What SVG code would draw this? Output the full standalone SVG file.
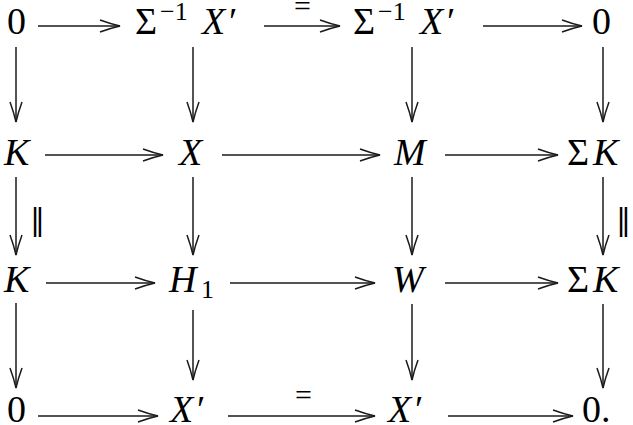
<svg xmlns="http://www.w3.org/2000/svg" width="633" height="425" viewBox="0 0 633 425">
<defs>
<marker id="ah" markerUnits="userSpaceOnUse" markerWidth="24" markerHeight="16" refX="21" refY="8" orient="auto" viewBox="0 0 24 16">
<path d="M1,2 Q12,6 21,8 Q12,10 1,14" fill="none" stroke="#1a1a1a" stroke-width="1.5"/>
</marker>
</defs>
<rect width="633" height="425" fill="#fff"/>
<g id="n11"><text x="7" y="34" font-family="Liberation Serif" font-size="38">0</text></g>
<g id="n12"><text x="135" y="34" font-family="Liberation Serif" font-size="38">Σ<tspan font-size="26" x="160" y="20">−1</tspan><tspan font-style="italic" x="202" y="34">X</tspan><tspan x="229" y="34">′</tspan></text></g>
<g id="n13"><text x="353" y="34" font-family="Liberation Serif" font-size="38">Σ<tspan font-size="26" x="378" y="20">−1</tspan><tspan font-style="italic" x="420" y="34">X</tspan><tspan x="447" y="34">′</tspan></text></g>
<g id="n14"><text x="592" y="34" font-family="Liberation Serif" font-size="38">0</text></g>
<g id="n21"><text x="4" y="165" font-family="Liberation Serif" font-size="38" font-style="italic">K</text></g>
<g id="n22"><text x="179" y="165" font-family="Liberation Serif" font-size="38" font-style="italic">X</text></g>
<g id="n23"><text x="394" y="165" font-family="Liberation Serif" font-size="38" font-style="italic">M</text></g>
<g id="n24"><text x="567" y="165" font-family="Liberation Serif" font-size="38">Σ<tspan font-style="italic" x="593">K</tspan></text></g>
<g id="n31"><text x="4" y="292" font-family="Liberation Serif" font-size="38" font-style="italic">K</text></g>
<g id="n32"><text x="169" y="292" font-family="Liberation Serif" font-size="38"><tspan font-style="italic">H</tspan><tspan font-size="26" x="201" y="298">1</tspan></text></g>
<g id="n33"><text x="392" y="292" font-family="Liberation Serif" font-size="38" font-style="italic">W</text></g>
<g id="n34"><text x="567" y="292" font-family="Liberation Serif" font-size="38">Σ<tspan font-style="italic" x="593">K</tspan></text></g>
<g id="n41"><text x="7" y="422" font-family="Liberation Serif" font-size="38">0</text></g>
<g id="n42"><text x="170" y="422" font-family="Liberation Serif" font-size="38"><tspan font-style="italic">X</tspan><tspan x="197">′</tspan></text></g>
<g id="n43"><text x="388" y="422" font-family="Liberation Serif" font-size="38"><tspan font-style="italic">X</tspan><tspan x="415">′</tspan></text></g>
<g id="n44"><text x="582" y="422" font-family="Liberation Serif" font-size="38">0.</text></g>
<g id="connectors" stroke="#1a1a1a" stroke-width="1.5" fill="none" marker-end="url(#ah)">
<line x1="38" y1="26" x2="120" y2="26"/>
<line x1="264" y1="26" x2="340" y2="26"/>
<line x1="483" y1="26" x2="582" y2="26"/>
<line x1="45" y1="155" x2="163" y2="155"/>
<line x1="222" y1="155" x2="380" y2="155"/>
<line x1="445" y1="155" x2="558" y2="155"/>
<line x1="46" y1="283" x2="155" y2="283"/>
<line x1="230" y1="283" x2="375" y2="283"/>
<line x1="445" y1="283" x2="558" y2="283"/>
<line x1="38" y1="416" x2="158" y2="416"/>
<line x1="228" y1="416" x2="375" y2="416"/>
<line x1="448" y1="416" x2="573" y2="416"/>
<line x1="16" y1="47" x2="16" y2="122"/>
<line x1="193" y1="47" x2="193" y2="122"/>
<line x1="412" y1="47" x2="412" y2="122"/>
<line x1="603" y1="47" x2="603" y2="122"/>
<line x1="16" y1="177" x2="16" y2="255"/>
<line x1="193" y1="177" x2="193" y2="255"/>
<line x1="412" y1="177" x2="412" y2="255"/>
<line x1="603" y1="177" x2="603" y2="255"/>
<line x1="16" y1="303" x2="16" y2="388"/>
<line x1="193" y1="310" x2="193" y2="380"/>
<line x1="412" y1="304" x2="412" y2="380"/>
<line x1="603" y1="304" x2="603" y2="388"/>
</g>
<g id="labels">
<text x="294" y="16" font-family="Liberation Serif" font-size="30">=</text>
<text x="295" y="405" font-family="Liberation Serif" font-size="30">=</text>
<text x="30" y="230" font-family="DejaVu Serif" font-size="30">‖</text>
<text x="616" y="230" font-family="DejaVu Serif" font-size="30">‖</text>
</g>
</svg>
